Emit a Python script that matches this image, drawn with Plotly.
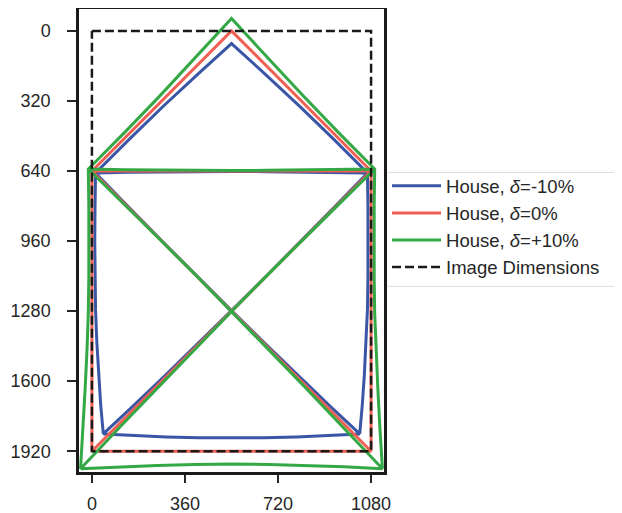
import plotly.graph_objects as go

# House outline, undistorted (delta = 0%)
red_x = [0, 1080, 0, 1080, 0, 0, 540, 1080, 1080]
red_y = [1920, 1920, 640, 640, 1920, 640, 0, 640, 1920]

# House, delta = -10%
blue_x = [44, 165, 288, 414, 540, 666, 792, 915, 1036,
          923, 801, 673, 540, 405, 271, 140, 14,
          142, 273, 406, 540, 674, 807, 938, 1066,
          940, 809, 675, 540, 407, 279, 157, 44,
          34, 26, 19, 14, 12, 11, 12, 14,
          146, 279, 411, 540, 669, 801, 934, 1066,
          1068, 1069, 1068, 1066, 1061, 1054, 1046, 1036]
blue_y = [1841, 1849, 1855, 1859, 1860, 1859, 1855, 1849, 1841,
          1716, 1579, 1432, 1278, 1120, 960, 802, 649,
          646, 644, 643, 642, 643, 644, 646, 649,
          802, 960, 1120, 1278, 1432, 1579, 1716, 1841,
          1709, 1570, 1423, 1271, 1117, 960, 804, 649,
          493, 341, 196, 58, 196, 341, 493, 649,
          804, 960, 1117, 1271, 1423, 1570, 1709, 1841]

# House, delta = +10%
green_x = [-44, 105, 252, 396, 540, 684, 828, 975, 1124,
           967, 819, 677, 540, 405, 269, 130, -14,
           128, 267, 404, 540, 676, 813, 952, 1094,
           950, 811, 675, 540, 403, 261, 113, -44,
           -34, -26, -19, -14, -12, -11, -12, -14,
           124, 261, 399, 540, 681, 819, 956, 1094,
           1092, 1091, 1092, 1094, 1099, 1106, 1114, 1124]
green_y = [2000, 1991, 1985, 1981, 1978, 1981, 1985, 1991, 2000,
           1804, 1621, 1448, 1282, 1120, 960, 798, 631,
           634, 636, 637, 638, 637, 636, 634, 631,
           798, 960, 1120, 1282, 1448, 1621, 1804, 2000,
           1811, 1630, 1457, 1289, 1124, 960, 797, 631,
           467, 299, 124, -57, 124, 299, 467, 631,
           797, 960, 1124, 1289, 1457, 1630, 1811, 2000]

# Image dimensions rectangle
img_x = [0, 1080, 1080, 0, 0]
img_y = [0, 0, 1920, 1920, 0]

x_ticks = [0, 360, 720, 1080]
y_ticks = [0, 320, 640, 960, 1280, 1600, 1920]

labels = ["House, <i>δ</i>=-10%", "House, <i>δ</i>=0%", "House, <i>δ</i>=+10%", "Image Dimensions"]

BLUE = "#3A56A6"
RED = "#EF5F52"
GREEN = "#33A845"
INK = "#262626"

fig = go.Figure()
fig.add_trace(go.Scatter(x=blue_x, y=blue_y, mode="lines", name=labels[0], legendgroup="a",
                         line=dict(color=BLUE, width=3)))
fig.add_trace(go.Scatter(x=red_x, y=red_y, mode="lines", name=labels[1], legendgroup="b",
                         line=dict(color=RED, width=3)))
fig.add_trace(go.Scatter(x=green_x, y=green_y, mode="lines", name=labels[2], legendgroup="c",
                         line=dict(color=GREEN, width=3)))
fig.add_trace(go.Scatter(x=img_x, y=img_y, mode="lines", name=labels[3], legendgroup="d",
                         line=dict(color="#1a1a1a", width=2.5, dash="9px,4px")))

# legend frame drawn as a paper-space rectangle (matches the reference box)
fig.add_shape(type="rect", xref="paper", yref="paper", x0=1.009, x1=1.95, y0=0.401, y1=0.647,
              line=dict(color="#dddddd", width=1), fillcolor="rgba(0,0,0,0)", layer="below")

# page body has an 8px default margin, so the figure is sized/offset to compensate
fig.update_layout(
    width=614, height=505,
    margin=dict(l=71, r=238, t=1, b=41),
    plot_bgcolor="white", paper_bgcolor="white",
    font=dict(family="Liberation Sans, Arial, sans-serif", size=18, color=INK),
    legend=dict(x=1.01, y=0.658, xanchor="left", yanchor="top",
                borderwidth=0, bgcolor="rgba(0,0,0,0)",
                font=dict(size=18.5, color=INK), tracegroupgap=0, itemwidth=49),
    xaxis=dict(range=[-50, 1130], tickvals=x_ticks, ticks="outside", ticklen=8, tickwidth=2,
               tickcolor=INK, showgrid=False, zeroline=False, showline=True, linewidth=2.5,
               linecolor="#1a1a1a", mirror=True, ticklabelstandoff=6, automargin=False,
               tickfont=dict(size=18)),
    yaxis=dict(range=[2015, -100], tickvals=y_ticks, ticks="outside", ticklen=9, tickwidth=2,
               tickcolor=INK, showgrid=False, zeroline=False, showline=True, linewidth=2.5,
               linecolor="#1a1a1a", mirror=True, ticklabelstandoff=13, automargin=False,
               tickfont=dict(size=18)),
)

fig.write_html("out.html")
